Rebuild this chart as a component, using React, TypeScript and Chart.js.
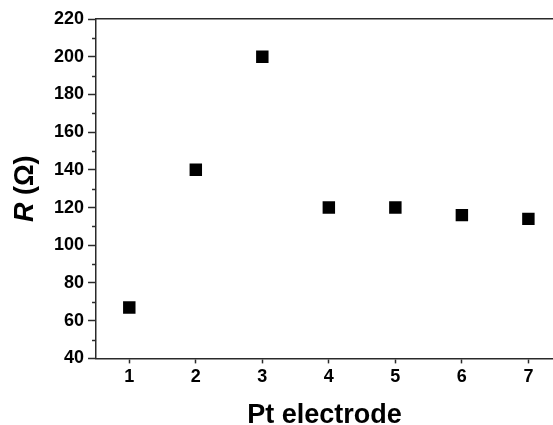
import React, { useEffect, useRef } from "react";
import { Chart, registerables } from "chart.js";

Chart.register(...registerables);

const ELECTRODES = [1, 2, 3, 4, 5, 6, 7];
const RESISTANCE = [67, 140, 200, 120, 120, 116, 114];
const X_TICKS = [1, 2, 3, 4, 5, 6, 7];
const Y_TICKS = [40, 60, 80, 100, 120, 140, 160, 180, 200, 220];
const Y_MINOR = [50, 70, 90, 110, 130, 150, 170, 190, 210];
const X_TITLE = "Pt electrode";
const Y_TITLE_ITALIC = "R";
const Y_TITLE_REST = " (Ω)";

const FONT = "'Liberation Sans', Arial, sans-serif";
const AXIS = "#2a2a2a";

const extras = {
  id: "extras",
  afterDraw(chart: any) {
    const ctx = chart.ctx;
    const y = chart.scales.y;
    const area = chart.chartArea;
    ctx.save();
    ctx.strokeStyle = AXIS;
    ctx.lineWidth = 1.5;
    for (const v of Y_MINOR) {
      const py = Math.round(y.getPixelForValue(v)) + 0.5;
      ctx.beginPath();
      ctx.moveTo(area.left - 4, py);
      ctx.lineTo(area.left, py);
      ctx.stroke();
    }
    // y title with italic R
    const cx = 26;
    const cy = (area.top + area.bottom) / 2;
    ctx.translate(cx, cy);
    ctx.rotate(-Math.PI / 2);
    ctx.fillStyle = "#000";
    ctx.textBaseline = "middle";
    ctx.font = `italic bold 27px ${FONT}`;
    const w1 = ctx.measureText(Y_TITLE_ITALIC).width;
    ctx.font = `bold 27px ${FONT}`;
    const w2 = ctx.measureText(Y_TITLE_REST).width;
    const start = -(w1 + w2) / 2;
    ctx.textAlign = "left";
    ctx.font = `italic bold 27px ${FONT}`;
    ctx.fillText(Y_TITLE_ITALIC, start, 0);
    ctx.font = `bold 27px ${FONT}`;
    ctx.fillText(Y_TITLE_REST, start + w1, 0);
    ctx.restore();
  },
};

export default function App() {
  const ref = useRef<HTMLCanvasElement>(null);
  useEffect(() => {
    document.body.style.margin = "0";
    const chart = new Chart(ref.current!, {
      type: "scatter",
      data: {
        datasets: [
          {
            data: ELECTRODES.map((x, i) => ({ x, y: RESISTANCE[i] })),
            pointStyle: "rect",
            pointRadius: 8.8,
            pointBorderWidth: 0,
            backgroundColor: "#000",
            borderColor: "#000",
          },
        ],
      },
      options: {
        animation: false,
        responsive: false,
        layout: { autoPadding: false, padding: { left: 50, top: 19, right: 0, bottom: -4 } },
        plugins: { legend: { display: false }, tooltip: { enabled: false } },
        scales: {
          x: {
            type: "linear",
            min: 0.5,
            max: 7.37,
            afterBuildTicks: (s: any) => {
              s.ticks = X_TICKS.map((v) => ({ value: v }));
            },
            ticks: {
              color: "#000",
              font: { family: FONT, size: 18, weight: "bold" },
              padding: 3,
              maxRotation: 0,
            },
            grid: {
              drawOnChartArea: false,
              tickLength: 5,
              tickColor: AXIS,
              tickWidth: 1.5,
            },
            border: { color: AXIS, width: 1.5 },
            title: {
              display: true,
              text: X_TITLE,
              color: "#000",
              font: { family: FONT, size: 27, weight: "bold", lineHeight: 1 },
              padding: { top: 11, bottom: 0 },
            },
          },
          x2: {
            type: "linear",
            position: "top",
            min: 0.5,
            max: 7.37,
            ticks: { display: false },
            grid: { drawOnChartArea: false, drawTicks: false },
            border: { color: AXIS, width: 1.5 },
          },
          y: {
            type: "linear",
            min: 40,
            max: 220,
            afterBuildTicks: (s: any) => {
              s.ticks = Y_TICKS.map((v) => ({ value: v }));
            },
            ticks: {
              color: "#000",
              font: { family: FONT, size: 18, weight: "bold" },
              padding: 4,
            },
            grid: {
              drawOnChartArea: false,
              tickLength: 8,
              tickColor: AXIS,
              tickWidth: 1.5,
            },
            border: { color: AXIS, width: 1.5 },
          },
        },
      },
      plugins: [extras],
    });
    return () => chart.destroy();
  }, []);
  return <canvas ref={ref} width={553} height={425} style={{ display: "block" }} />;
}
